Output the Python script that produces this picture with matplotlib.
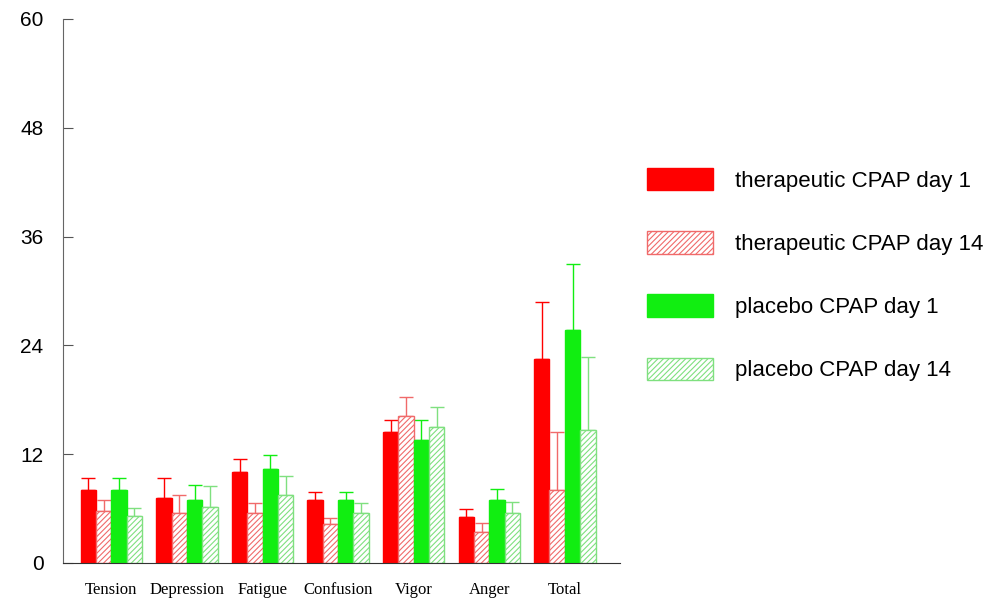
import matplotlib.pyplot as plt
import numpy as np

categories = ['Tension', 'Depression', 'Fatigue', 'Confusion', 'Vigor', 'Anger', 'Total']

ther_d1 = [8.05, 7.2, 10.0, 6.9, 14.5, 5.1, 22.5]
ther_d1_err = [1.35, 2.2, 1.5, 0.9, 1.3, 0.9, 6.3]
ther_d14 = [5.7, 5.5, 5.5, 4.3, 16.2, 3.45, 8.0]
ther_d14_err = [1.2, 2.0, 1.1, 0.7, 2.1, 0.95, 6.4]
plac_d1 = [8.05, 7.0, 10.4, 7.0, 13.6, 6.95, 25.7]
plac_d1_err = [1.35, 1.6, 1.5, 0.8, 2.2, 1.25, 7.3]
plac_d14 = [5.2, 6.2, 7.5, 5.5, 15.0, 5.5, 14.7]
plac_d14_err = [0.9, 2.3, 2.1, 1.1, 2.2, 1.2, 8.0]

labels = ['therapeutic CPAP day 1', 'therapeutic CPAP day 14',
          'placebo CPAP day 1', 'placebo CPAP day 14']

red = '#ff0000'
light_red = '#f06a6a'
green = '#11ee11'
light_green = '#7fe07f'

plt.rcParams['hatch.linewidth'] = 0.8

fig = plt.figure(figsize=(10.08, 5.99), dpi=100)
ax = fig.add_axes([63 / 1008, 36 / 599, 557 / 1008, 544 / 599])

x = np.arange(len(categories))
w = 0.203
series = [
    (ther_d1, ther_d1_err, red, red, None),
    (ther_d14, ther_d14_err, 'white', light_red, '//////'),
    (plac_d1, plac_d1_err, green, green, None),
    (plac_d14, plac_d14_err, 'white', light_green, '//////'),
]

handles = []
for i, (vals, errs, fc, ec, hatch) in enumerate(series):
    pos = x + (i - 1.5) * w
    b = ax.bar(pos, vals, w, color=fc, edgecolor=ec, hatch=hatch,
               linewidth=1, label=labels[i], zorder=2)
    ax.errorbar(pos, vals, yerr=[np.zeros(len(vals)), errs], fmt='none',
                ecolor=ec, elinewidth=1.0, capsize=5, capthick=1.0, zorder=1)
    handles.append(b)

ax.set_xlim(-0.64, 6.73)
ax.set_ylim(0, 60)
ax.set_yticks([0, 12, 24, 36, 48, 60])
ax.set_xticks(x)
ax.set_xticklabels(categories, family='Liberation Serif', fontsize=12)
ax.tick_params(axis='x', length=0, pad=14)
ax.tick_params(axis='y', direction='in', length=7, pad=14, labelsize=15,
               color='#555555')
for lbl in ax.get_yticklabels():
    lbl.set_family('Liberation Sans')

for s in ['top', 'right']:
    ax.spines[s].set_visible(False)
ax.spines['left'].set_color('#666666')
ax.spines['bottom'].set_color('#333333')

fig.legend(handles=handles, labels=labels, loc='upper left',
           bbox_to_anchor=(627 / 1008, 1 - 148 / 599), frameon=False,
           prop={'family': 'Liberation Sans', 'size': 16},
           handlelength=2.97, handleheight=1.17, labelspacing=1.78,
           handletextpad=1.0)

fig.savefig('out.png', dpi=100)
